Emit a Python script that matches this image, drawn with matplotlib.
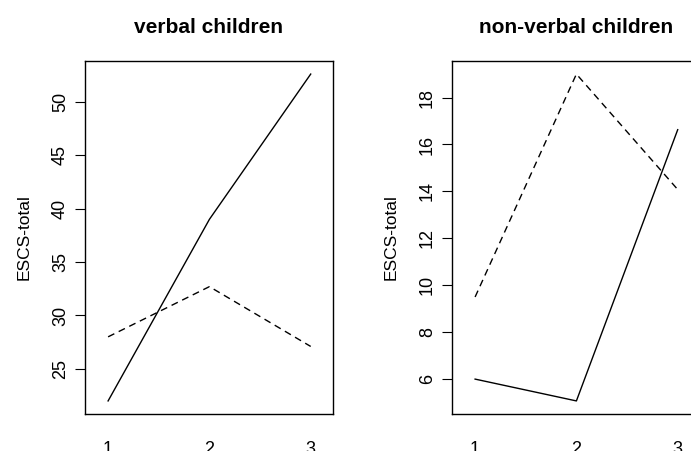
import matplotlib
matplotlib.use('Agg')
import matplotlib.pyplot as plt

plt.rcParams['font.family'] = ['Liberation Sans', 'DejaVu Sans']

# time points
x_vals = [1, 2, 3]

# verbal children
verbal_solid = [22.0, 39.0, 52.6]
verbal_dashed = [28.0, 32.7, 27.1]

# non-verbal children
nonverbal_solid = [6.0, 5.07, 16.63]
nonverbal_dashed = [9.5, 19.0, 14.08]

verbal_yticks = [25, 30, 35, 40, 45, 50]
nonverbal_yticks = [6, 8, 10, 12, 14, 16, 18]

W, H = 691, 451
fig = plt.figure(figsize=(W / 100, H / 100), dpi=100)


def r_ylim(a, b):
    # R-style 4% padding around the data range
    lo = min(min(a), min(b))
    hi = max(max(a), max(b))
    pad = (hi - lo) * 0.04
    return lo - pad, hi + pad


def panel(left_px, title, solid, dashed, yticks):
    ax = fig.add_axes([left_px / W, 1 - 414 / H, 248 / W, 353 / H])
    ax.plot(x_vals, solid, color='black', lw=1.0)
    ax.plot(x_vals, dashed, color='black', lw=1.0, dashes=(5, 3.5))
    ax.set_xlim(0.772, 3.22)
    ax.set_ylim(*r_ylim(solid, dashed))
    ax.set_yticks(yticks)
    ax.set_yticklabels([str(t) for t in yticks], rotation=90, va='center', fontsize=13)
    ax.set_xticks(x_vals)
    ax.set_xticklabels([str(v) for v in x_vals], fontsize=13)
    ax.tick_params(axis='x', length=0, pad=19.5)
    ax.tick_params(axis='y', length=7, width=0.8, pad=4.5)
    for s in ax.spines.values():
        s.set_linewidth(1.0)
    ax.set_ylabel('ESCS-total', fontsize=12.5, labelpad=15)
    ax.set_title(title, fontsize=15, fontweight='bold', pad=20)
    return ax


panel(85, 'verbal children', verbal_solid, verbal_dashed, verbal_yticks)
panel(452, 'non-verbal children', nonverbal_solid, nonverbal_dashed, nonverbal_yticks)

fig.savefig('out.png', dpi=100)
